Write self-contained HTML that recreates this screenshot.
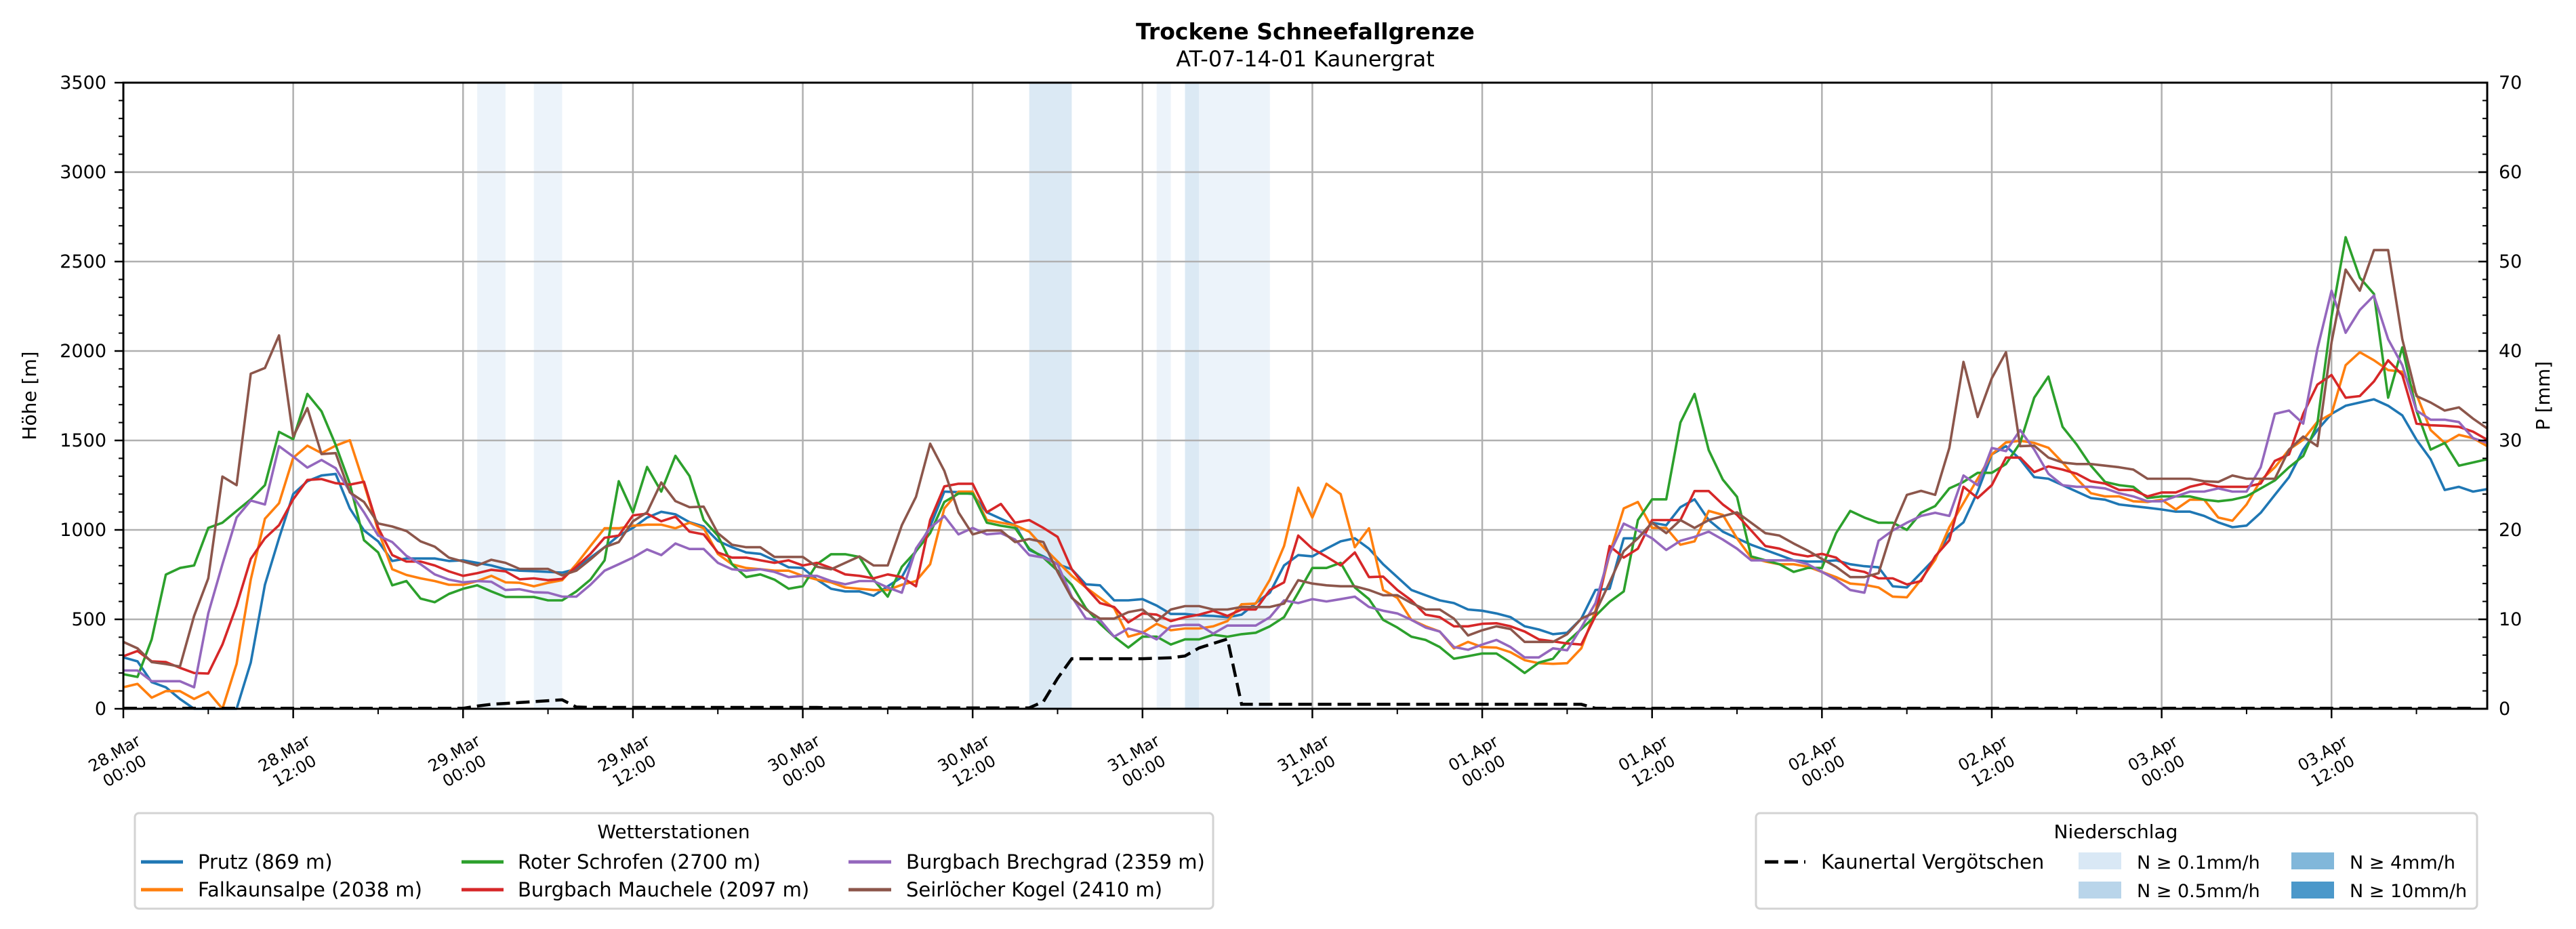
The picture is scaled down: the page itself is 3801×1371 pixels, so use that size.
<!DOCTYPE html>
<html><head><meta charset="utf-8"><style>
html,body{margin:0;padding:0;background:#fff;}
svg{display:block;font-family:"DejaVu Sans","Liberation Sans",sans-serif;}
</style></head><body>
<svg id="chart" xmlns="http://www.w3.org/2000/svg" width="3801" height="1371" viewBox="0 0 3801 1371">
<rect width="3801" height="1371" fill="#fff"/>
<g id="bands"></g>
<g id="grid"></g>
<g id="series"></g>
<g id="axes"></g>
<text x="1926" y="58" font-size="33" font-weight="bold" text-anchor="middle">Trockene Schneefallgrenze</text>
<text x="1926" y="98" font-size="32" text-anchor="middle">AT-07-14-01 Kaunergrat</text>
<text transform="translate(53,584) rotate(-90)" font-size="28" text-anchor="middle">Höhe [m]</text>
<text transform="translate(3762,584) rotate(-90)" font-size="28" text-anchor="middle">P [mm]</text>

<g>
<rect x="199" y="1200" width="1591" height="141" rx="6" fill="#fff" stroke="#d3d3d3" stroke-width="3"/>
<text x="994" y="1237" font-size="28" text-anchor="middle">Wetterstationen</text>
<g><line x1="208" y1="1272" x2="270" y2="1272" stroke="#1f77b4" stroke-width="5"/><text x="292" y="1282" font-size="29">Prutz (869 m)</text></g>
<g><line x1="208" y1="1313" x2="270" y2="1313" stroke="#ff7f0e" stroke-width="5"/><text x="292" y="1323" font-size="29">Falkaunsalpe (2038 m)</text></g>
<g><line x1="681" y1="1272" x2="743" y2="1272" stroke="#2ca02c" stroke-width="5"/><text x="764" y="1282" font-size="29">Roter Schrofen (2700 m)</text></g>
<g><line x1="681" y1="1313" x2="743" y2="1313" stroke="#d62728" stroke-width="5"/><text x="764" y="1323" font-size="29">Burgbach Mauchele (2097 m)</text></g>
<g><line x1="1252" y1="1272" x2="1315" y2="1272" stroke="#9467bd" stroke-width="5"/><text x="1337" y="1282" font-size="29">Burgbach Brechgrad (2359 m)</text></g>
<g><line x1="1252" y1="1313" x2="1315" y2="1313" stroke="#8c564b" stroke-width="5"/><text x="1337" y="1323" font-size="29">Seirlöcher Kogel (2410 m)</text></g>
</g>

<g>
<rect x="2591" y="1200" width="1064" height="141" rx="6" fill="#fff" stroke="#d3d3d3" stroke-width="3"/>
<text x="3122" y="1237" font-size="28" text-anchor="middle">Niederschlag</text>
<g><line x1="2604" y1="1272" x2="2664" y2="1272" stroke="#000" stroke-width="5" stroke-dasharray="20,9"/><text x="2687" y="1282" font-size="29">Kaunertal Vergötschen</text></g>
<g><rect x="3067" y="1258" width="63" height="25" fill="#d9e8f5"/><text x="3153" y="1282" font-size="27">N ≥ 0.1mm/h</text></g>
<g><rect x="3067" y="1301" width="63" height="25" fill="#b9d5ea"/><text x="3153" y="1324" font-size="27">N ≥ 0.5mm/h</text></g>
<g><rect x="3381" y="1258" width="63" height="25" fill="#81b7da"/><text x="3467" y="1282" font-size="27">N ≥ 4mm/h</text></g>
<g><rect x="3381" y="1301" width="63" height="25" fill="#4b98ca"/><text x="3467" y="1324" font-size="27">N ≥ 10mm/h</text></g>
</g>
</svg>
<script>
const prutz=[287,265,149,120,55,0,0,0,0,258,693,953,1200,1272,1304,1313,1120,997,936,826,840,840,840,826,830,816,801,780,772,769,765,761,782,845,903,968,1011,1069,1101,1087,1043,1019,939,903,
874,866,830,791,787,722,671,656,656,632,685,736,881,1019,1214,1211,1200,1098,1062,1026,888,852,808,780,696,690,606,606,613,577,530,530,522,519,512,526,591,649,801,859,852,895,
936,953,895,808,736,664,635,606,591,555,548,533,512,461,443,417,425,504,664,671,953,953,1040,1026,1127,1171,1055,990,953,917,888,859,830,823,823,830,808,797,791,685,678,760,
842,978,1042,1214,1422,1468,1395,1295,1286,1250,1214,1178,1169,1142,1133,1124,1114,1102,1102,1078,1042,1015,1024,1096,1196,1295,1449,1558,1649,1694,1712,1730,1694,1640,1504,1395,1223,1241,1214,1228];
const falkaunsalpe=[120,139,62,99,99,55,94,0,251,722,1062,1149,1403,1471,1429,1471,1501,1258,997,780,748,729,714,693,693,714,743,707,704,685,704,719,808,910,1009,1009,1023,1029,1029,1009,1040,1009,866,808,
787,780,772,772,743,722,707,678,671,664,664,693,714,808,1120,1214,1214,1055,1040,1026,990,903,823,743,678,620,562,403,425,475,439,449,449,461,490,584,588,722,910,1236,1069,1258,
1200,903,1009,664,620,497,461,432,338,374,345,342,316,272,255,251,255,338,548,866,1120,1156,1011,1011,917,936,1106,1084,953,845,823,808,808,794,765,736,700,693,678,627,623,722,
833,1015,1150,1286,1422,1489,1498,1486,1459,1377,1286,1205,1187,1187,1160,1156,1169,1114,1169,1169,1069,1051,1142,1277,1350,1449,1504,1604,1649,1921,1993,1948,1893,1884,1758,1558,1486,1531,1513,1468];
const roterSchrofen=[193,178,388,750,787,801,1011,1040,1106,1171,1250,1548,1507,1760,1663,1475,1258,942,874,690,714,616,596,642,671,690,656,625,625,625,606,606,656,722,830,1272,1098,1352,1214,1414,1301,1055,968,808,
736,751,722,671,685,808,864,864,849,722,627,794,881,982,1156,1203,1203,1040,1023,1011,895,845,772,693,562,475,403,342,403,403,359,388,388,414,403,417,425,461,512,649,787,787,
816,678,613,497,454,403,385,345,280,294,309,309,258,200,258,280,374,446,519,598,656,1055,1171,1171,1600,1760,1446,1281,1185,852,830,808,765,787,787,982,1106,1069,1040,1040,1000,1096,
1133,1232,1268,1319,1319,1368,1486,1739,1857,1576,1477,1359,1268,1250,1241,1178,1187,1187,1187,1169,1160,1169,1187,1232,1277,1350,1413,1594,2192,2636,2410,2319,1739,2020,1667,1449,1486,1359,1377,1395];
const mauchele=[294,323,265,261,229,200,197,359,577,838,953,1026,1171,1279,1284,1261,1253,1269,1011,859,823,823,801,768,743,758,777,768,724,729,719,726,794,866,956,968,1081,1091,1048,1074,990,975,874,845,
845,830,816,830,801,816,787,751,743,729,751,736,685,1055,1243,1258,1258,1098,1145,1040,1055,1011,961,780,678,591,569,483,533,526,490,512,526,548,519,555,555,664,707,968,895,850,
801,874,736,739,664,606,526,512,461,461,475,478,461,432,388,377,365,359,519,910,845,895,1055,1055,1055,1217,1217,1142,1084,997,910,895,866,852,866,845,780,765,729,729,695,714,
852,942,1241,1178,1250,1404,1404,1323,1355,1337,1314,1272,1259,1223,1223,1187,1209,1209,1241,1259,1241,1241,1241,1259,1386,1422,1649,1812,1866,1739,1748,1830,1948,1866,1594,1585,1582,1576,1549,1504];
const brechgrad=[214,214,154,154,154,120,533,808,1069,1164,1142,1468,1410,1348,1391,1345,1214,1098,968,932,855,808,751,722,707,714,710,664,668,652,649,627,627,693,772,808,845,891,859,924,893,893,816,780,
772,780,765,736,743,743,714,696,714,714,678,649,895,1011,1077,975,1011,975,982,946,859,845,808,627,504,497,403,449,427,388,461,469,469,420,465,465,465,512,606,591,613,600,
613,627,569,548,533,497,454,432,345,330,359,385,345,287,287,338,327,454,591,866,1035,997,953,888,939,961,990,946,895,830,830,830,830,808,765,722,664,649,939,997,1040,1078,
1096,1078,1304,1250,1458,1440,1558,1449,1314,1250,1241,1241,1232,1205,1187,1160,1160,1187,1214,1214,1232,1214,1214,1350,1649,1667,1594,2011,2337,2102,2229,2310,2066,1921,1667,1616,1616,1603,1513,1486];
const seirloecher=[374,338,261,250,236,519,729,1298,1250,1873,1905,2087,1521,1681,1424,1429,1210,1156,1036,1019,994,936,906,845,823,801,833,816,782,782,782,746,772,835,903,932,1048,1098,1265,1161,1127,1130,982,917,
903,903,849,849,849,794,780,816,852,801,801,1026,1185,1482,1330,1098,975,997,997,932,949,932,765,620,555,504,504,540,555,490,555,574,574,555,555,569,569,569,588,719,700,690,
685,685,664,635,635,591,555,555,504,410,439,461,446,374,374,374,417,504,540,707,881,953,1040,982,1055,1011,1055,1077,1098,1040,982,968,924,884,838,794,736,736,758,1011,1196,1218,
1196,1458,1939,1631,1848,1993,1468,1471,1404,1377,1368,1368,1359,1350,1337,1286,1286,1286,1286,1272,1268,1304,1286,1286,1286,1449,1522,1468,2048,2455,2337,2564,2564,2066,1748,1712,1667,1685,1622,1567];
const precipKaunertal=[0.05,0.05,0.05,0.05,0.05,0.05,0.05,0.05,0.05,0.05,0.05,0.05,0.05,0.05,0.05,0.05,0.05,0.05,0.05,0.05,0.05,0.05,0.05,0.05,0.05,
0.3,0.5,0.6,0.7,0.8,0.9,1.0,0.2,0.15,0.15,0.15,0.15,0.15,0.15,0.15,0.15,0.15,0.15,0.15,0.15,0.15,0.15,0.15,0.15,0.15,
0.1,0.1,0.1,0.1,0.1,0.1,0.1,0.1,0.1,0.1,0.1,0.1,0.1,0.1,0.1,0.8,3.4,5.6,5.6,5.6,5.6,5.6,5.6,5.65,5.7,5.9,6.8,7.3,7.8,
0.5,0.5,0.5,0.5,0.5,0.5,0.5,0.5,0.5,0.5,0.5,0.5,0.5,0.5,0.5,0.5,0.5,0.5,0.5,0.5,0.5,0.5,0.5,0.5,0.5,
0.05,0.05,0.05,0.05,0.05,0.05,0.05,0.05,0.05,0.05,0.05,0.05,0.05,0.05,0.05,0.05,0.05,0.05,0.05,0.05,0.05,0.05,0.05,0.05,0.05,0.05,0.05,0.05,0.05,0.05,0.05,0.05,0.05,0.05,0.05,0.05,0.05,0.05,0.05,0.05,0.05,0.05,0.05,0.05,0.05,0.05,0.05,0.05,0.05,0.05,0.05,0.05,0.05,0.05,0.05,0.05,0.05,0.05,0.05,0.05,0.05,0.05,0.05];
const bandStart=[25,29,64,73,75,76];
const bandEnd=[27,31,67,74,76,81];
const bandLevel=[0.1,0.1,0.5,0.1,0.5,0.1];
const xTickHours=[0,12,24,36,48,60,72,84,96,108,120,132,144,156];
const xTickDates=["28.Mar","28.Mar","29.Mar","29.Mar","30.Mar","30.Mar","31.Mar","31.Mar","01.Apr","01.Apr","02.Apr","02.Apr","03.Apr","03.Apr"];
const xTickTimes=["00:00","12:00","00:00","12:00","00:00","12:00","00:00","12:00","00:00","12:00","00:00","12:00","00:00","12:00"];
const yTicks=[0,500,1000,1500,2000,2500,3000,3500];
const y2Ticks=[0,10,20,30,40,50,60,70];

const NS="http://www.w3.org/2000/svg";
const L=182,R=3670,T=122,B=1046,XMAX=167,YMAX=3500,Y2MAX=70;
const xs=h=>L+(R-L)*h/XMAX;
const ys=v=>B-(B-T)*v/YMAX;
const y2s=v=>B-(B-T)*v/Y2MAX;
function mk(tag,attrs,parent){const e=document.createElementNS(NS,tag);for(const k in attrs)e.setAttribute(k,attrs[k]);parent.appendChild(e);return e;}
const gB=document.getElementById('bands'),gG=document.getElementById('grid'),gS=document.getElementById('series'),gA=document.getElementById('axes');
const bandColor={0.1:"#ecf3fa",0.5:"#dbe9f4",4:"#c0dbed",10:"#a5cbe4"};
bandStart.forEach((s,i)=>{const r=mk('rect',{x:xs(s),y:T,width:xs(bandEnd[i])-xs(s),height:B-T,fill:bandColor[bandLevel[i]]},gB);

});
xTickHours.forEach(h=>{const l=mk('line',{x1:xs(h),x2:xs(h),y1:T,y2:B,stroke:"#b0b0b0","stroke-width":2.5},gG);

});
yTicks.forEach(v=>{const l=mk('line',{x1:L,x2:R,y1:ys(v),y2:ys(v),stroke:"#b0b0b0","stroke-width":2.5},gG);

});
function line(arr,color,name){let d="";arr.forEach((v,i)=>{d+=(i?"L":"M")+xs(i).toFixed(1)+","+ys(v).toFixed(1);});
const p=mk('path',{d:d,fill:"none",stroke:color,"stroke-width":3.6,"stroke-linejoin":"round"},gS);

}
line(prutz,"#1f77b4","series-prutz");
line(falkaunsalpe,"#ff7f0e","series-falkaunsalpe");
line(roterSchrofen,"#2ca02c","series-roter-schrofen");
line(mauchele,"#d62728","series-burgbach-mauchele");
line(brechgrad,"#9467bd","series-burgbach-brechgrad");
line(seirloecher,"#8c564b","series-seirloecher-kogel");
(function(){let d="";precipKaunertal.forEach((v,i)=>{d+=(i?"L":"M")+xs(i).toFixed(1)+","+y2s(v).toFixed(1);});
const p=mk('path',{d:d,fill:"none",stroke:"#000","stroke-width":4.5,"stroke-dasharray":"20,9"},gS);

})();
const sp=mk('rect',{x:L,y:T,width:R-L,height:B-T,fill:"none",stroke:"#000","stroke-width":3},gA);


for(let v=0;v<=YMAX;v+=100){const maj=v%500===0;mk('line',{x1:L-(maj?13:7),x2:L,y1:ys(v),y2:ys(v),stroke:"#000","stroke-width":maj?2.5:2},gA);}
yTicks.forEach(v=>{const t=mk('text',{x:157,y:ys(v)+9,"font-size":27,"text-anchor":"end"},gA);t.textContent=v;

});
for(let v=0;v<=Y2MAX;v+=2){const maj=v%10===0;mk('line',{x1:R-(maj?13:7),x2:R,y1:y2s(v),y2:y2s(v),stroke:"#000","stroke-width":maj?2.5:2},gA);}
y2Ticks.forEach(v=>{const t=mk('text',{x:3687,y:y2s(v)+9,"font-size":27,"text-anchor":"start"},gA);t.textContent=v;

});
for(let h=0;h<=XMAX;h+=6){const maj=h%12===0;mk('line',{x1:xs(h),x2:xs(h),y1:B,y2:B+(maj?14:8),stroke:"#000","stroke-width":maj?2.5:2},gA);}
xTickHours.forEach((h,i)=>{const cx=xs(h)-6,cy=1124;
const t=mk('text',{transform:`rotate(-30 ${cx} ${cy})`,"font-size":24,"text-anchor":"middle"},gA);


const a=mk('tspan',{x:cx,y:cy-6},t);a.textContent=xTickDates[i];
const b=mk('tspan',{x:cx,y:cy+24},t);b.textContent=xTickTimes[i];});
</script>
</body></html>
